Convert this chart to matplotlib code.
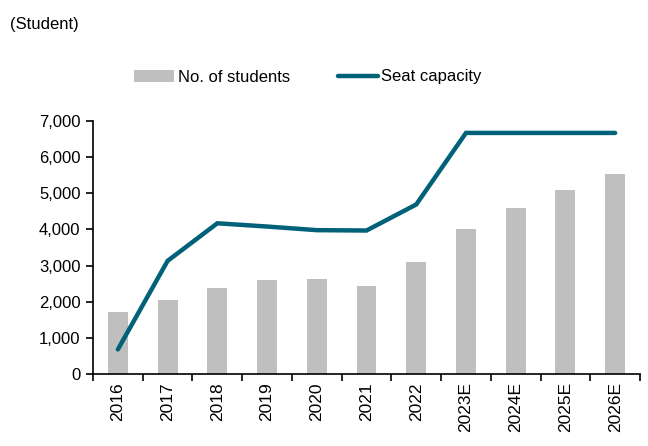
import matplotlib
matplotlib.use("Agg")
import matplotlib.pyplot as plt
import numpy as np

plt.rcParams['font.family'] = ['Liberation Sans', 'DejaVu Sans']

years = ["2016", "2017", "2018", "2019", "2020", "2021", "2022",
         "2023E", "2024E", "2025E", "2026E"]
students = [1710, 2060, 2380, 2600, 2630, 2430, 3110, 4010, 4600, 5100, 5520]
seat_capacity = [680, 3130, 4170, 4080, 3980, 3970, 4690, 6670, 6670, 6670, 6670]
y_ticks = [0, 1000, 2000, 3000, 4000, 5000, 6000, 7000]

fig = plt.figure(figsize=(6.48, 4.46), dpi=100)
ax = fig.add_axes([93/648, 1 - 374/446, (640-93)/648, (374-121)/446])

x = np.arange(len(years))
bars = ax.bar(x, students, width=0.4, color="#BFBFBF", label="No. of students", zorder=2)
line, = ax.plot(x, seat_capacity, color="#006178", linewidth=3.2, solid_capstyle="round",
                solid_joinstyle="miter", label="Seat capacity", zorder=3)

ax.set_xlim(-0.5, len(years) - 0.5)
ax.set_ylim(0, 7000)
ax.set_yticks(y_ticks)
ax.set_yticklabels([f"{v:,}" for v in y_ticks], fontsize=12)
ax.set_xticks(x)
ax.set_xticklabels(years, rotation=90, fontsize=12.5)
ax.tick_params(axis='x', length=0, pad=6)
ax.set_xticks(np.arange(-0.5, len(years), 1), minor=True)
ax.tick_params(axis='x', which='minor', length=5, width=1.2, direction='out')
ax.tick_params(axis='y', length=5, width=1.2, direction='out', pad=4)

for s in ["top", "right"]:
    ax.spines[s].set_visible(False)
for s in ["left", "bottom"]:
    ax.spines[s].set_linewidth(1.2)

fig.text(10/648, 1 - 24/446, "(Student)", fontsize=12, va="center", ha="left")

leg = fig.legend([bars, line], ["No. of students", "Seat capacity"],
                 loc="center", bbox_to_anchor=(308/648, 1 - 77/446), ncol=2,
                 frameon=False, fontsize=12, handlelength=2.4, handletextpad=0.2,
                 columnspacing=2.9)

fig.savefig("out.png", dpi=100)
